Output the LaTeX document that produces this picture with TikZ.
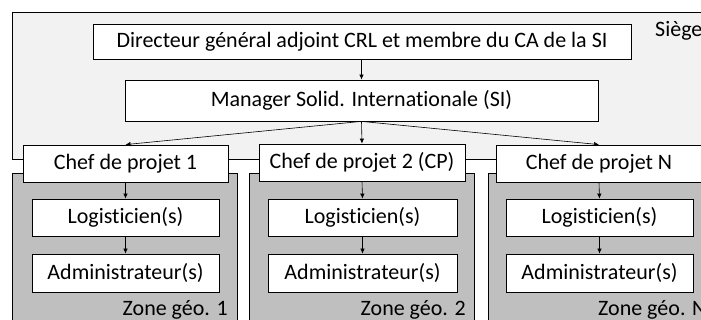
\documentclass[tikz,border=0pt]{standalone}
\usepackage{fontspec}
\setmainfont{Carlito}[Ligatures={NoCommon}]
\usetikzlibrary{arrows.meta}
\definecolor{siegefill}{HTML}{F2F2F2}
\definecolor{zonefill}{HTML}{BFBFBF}
\begin{document}
\begin{tikzpicture}[x=1pt,y=-1pt,
  box/.style={draw=black, line width=0.8pt, fill=white, inner sep=0pt, font=\fontsize{22}{26}\selectfont},
  area/.style={draw=black, line width=0.8pt},
  lbl/.style={inner sep=0pt, font=\fontsize{22}{26}\selectfont},
  arr/.style={draw=black, line width=0.6pt, -{Latex[length=5pt,width=4.5pt]}}]
\useasboundingbox (0,0) rectangle (701,320);
\clip (0,0) rectangle (701,320);
% areas
\draw[area, fill=siegefill] (12,12) rectangle (730,159);
\draw[area, fill=zonefill] (12,173) rectangle (237,340);
\draw[area, fill=zonefill] (249,173) rectangle (474,340);
\draw[area, fill=zonefill] (488,173) rectangle (730,340);
% labels
\node[lbl, anchor=base west] (siege) at (655,37) {Siège};
\node[lbl, anchor=base east] (z1) at (228,315) {Zone géo. 1};
\node[lbl, anchor=base east] (z2) at (466,315) {Zone géo. 2};
\node[lbl, anchor=base west] (zn) at (598,315) {Zone géo. N};
% top boxes
\node[box, minimum width=538pt, minimum height=35pt] (dir) at (362,41.5) {Directeur général adjoint CRL et membre du CA de la SI};
\node[box, minimum width=473pt, minimum height=41pt] (man) at (361.5,100.5) {Manager Solid. Internationale (SI)};
% chefs
\node[box, minimum width=205pt, minimum height=37pt] (c1) at (125.5,163.5) {Chef de projet 1};
\node[box, minimum width=206pt, minimum height=37pt] (c2) at (362,162.5) {Chef de projet 2 (CP)};
\node[box, minimum width=206pt, minimum height=37pt] (cn) at (599,163.5) {Chef de projet N};
% zone boxes
\node[box, minimum width=187pt, minimum height=37pt] (l1) at (125.5,217.5) {Logisticien(s)};
\node[box, minimum width=187pt, minimum height=38pt] (a1) at (125.5,273) {Administrateur(s)};
\node[box, minimum width=189pt, minimum height=37pt] (l2) at (362.5,217.5) {Logisticien(s)};
\node[box, minimum width=189pt, minimum height=38pt] (a2) at (362.5,273) {Administrateur(s)};
\node[box, minimum width=187pt, minimum height=37pt] (ln) at (599.5,217.5) {Logisticien(s)};
\node[box, minimum width=187pt, minimum height=38pt] (an) at (599.5,273) {Administrateur(s)};
% connectors
\draw[arr] (dir.south -| man.south) -- (man.north);
\draw[arr] (man.south) -- (c1.north);
\draw[arr] (man.south) -- (c2.north);
\draw[arr] (man.south) -- (cn.north);
\draw[arr] (c1.south) -- (l1.north);
\draw[arr] (l1.south) -- (a1.north);
\draw[arr] (c2.south) -- (l2.north);
\draw[arr] (l2.south) -- (a2.north);
\draw[arr] (cn.south) -- (ln.north);
\draw[arr] (ln.south) -- (an.north);
\end{tikzpicture}
\end{document}
